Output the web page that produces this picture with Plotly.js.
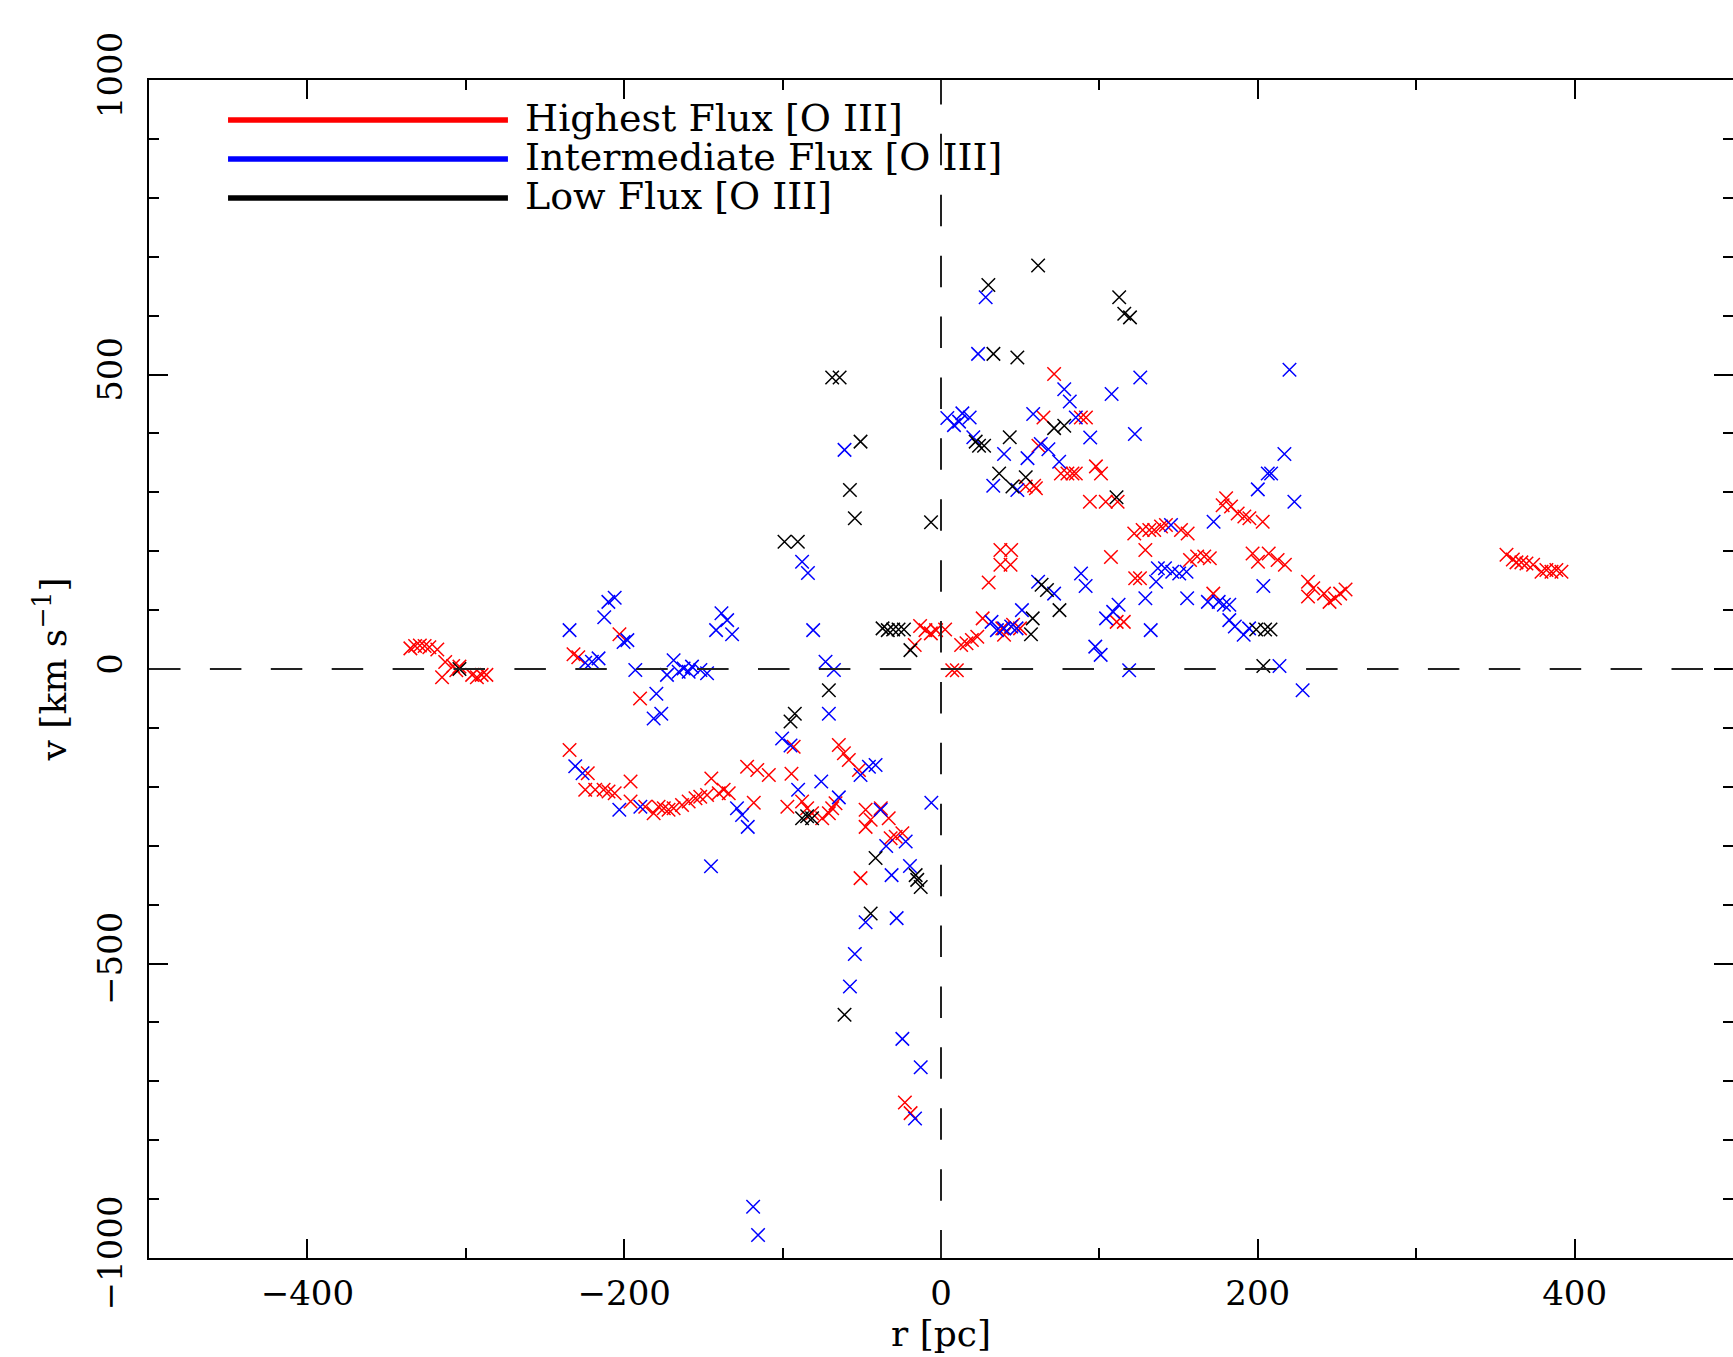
<!DOCTYPE html>
<html>
<head>
<meta charset="utf-8">
<script src="https://cdn.plot.ly/plotly-3.0.1.min.js"></script>
<style>html,body{margin:0;padding:0;background:#fff;}</style>
</head>
<body>
<div id="chart" style="width:1733px;height:1357px;"></div>
<script>
// ---- Highest Flux [O III] (red) ----
const rHigh = [
  -335,-332,-329,-326,-323,-318,-313,-315,-308,-304,-306,-296,-293,-290,-287,
  -232,-229,-203,-190,
  -234.5,-223,-224.6,-218.3,-213,-209.9,-206,-196,-196,-186.7,-181.4,-178.3,-175,-172,-168.8,-163.5,-159.3,-155,-152,-147.7,-145,-140.3,-137.2,-134,-122.4,-116,-108.7,-118.2,
  -97,-94.4,-93,-87.7,-84.5,-81.4,-75,-70.8,-68.7,-66.6,-64.5,-61.3,-58.2,-51.8,-47.6,-47.6,-44.4,-38,-33,-50.8,-31.8,-28.6,-24.4,-22.8,-19.2,
  -16.6,-13.2,-9.8,-6.4,-3.1,2.6,7.1,10,12.7,16.1,19.5,22.9,26.3,30.1,37.5,44.3,37.5,43.9,38.7,39.8,45.5,49.9,
  71.4,64.7,88.3,91.5,61.5,75.7,79.8,83,85.1,97.8,101,53.5,58.8,59.9,94,104,111.5,
  122,127.3,131.5,134.6,138.9,142,151.5,155.7,129,107.3,122.6,125.6,110.9,115.4,157.2,161.7,166.2,169.7,171.9,180,177.8,183.1,187.3,191.5,194.7,203.1,196.7,200.1,206.9,212.5,217.1,231.7,231.7,235,241.8,245.3,248.7,252,255.4,
  357,361,363.3,366.4,369.6,373.8,379.1,382.2,385.4,388.5,391.7
];
const vHigh = [
  35,39,40,39,37,33,12,-14,5,4,-2,-10,-14,-10,-10,
  25,20,59,-50,
  -137.5,-177,-205,-205,-205,-208,-211,-191,-225,-234,-245,-234,-236.5,-239,-236.5,-231,-225,-219.5,-217,-214,-186,-211,-205,-211,-166,-171.5,-180,-227,
  -234,-178,-132,-225,-236.5,-245,-253.5,-245,-236.5,-228,-129,-143,-154.5,-171.5,-239,-268,-256,-236.5,-253.5,-355,-287.5,-284.7,-279,-736,-754,
  40.7,73,66,60.5,66,67,-2,-2,40.7,43.6,49.2,54.8,86,147,202,202,177,177,69,58,75,69,
  501,427,427,427,379,332,332,332,332,344,332,310,311,307,284,284,284,
  230,236,236,236,242,244.5,236,230,202,190,154,154,80,80,185,191,191,188,128,290,278,276,264,259,256,250,196,182,196,185,177,148,123,137,128,114,120,128,135,
  194,186,181,181,179,177,165,168,165,168,165
];

// ---- Intermediate Flux [O III] (blue) ----
const rMid = [
  -234.5,-210,-206,-212.6,-200.4,-198,-224.6,-220.4,-216.2,-193,
  -179.7,-181.4,-176.6,-168.8,-173,-165.6,-162.5,-159.3,-157.2,-151.9,-147.7,
  -138.6,-135,-142,-131.9,-87.7,-84,-80.7,-72.9,-67.6,-70.8,
  -100.3,-95,-90.2,-75.6,-64.5,-50.8,-45.5,-41.3,-145.2,-230.9,
  -226.3,-203.1,-189.8,-128.8,-125.6,-122,-118.6,-115.5,-60.9,-24.4,
  -12.8,-16.4,-57.5,-54.4,-47.6,-28,-31.2,-19.6,-34.6,-22.3,-38.1,-6.1,
  28.2,23.4,77.8,81.3,107.7,125.8,220,4,8.2,13.5,18.1,11.4,
  58.2,85.1,20.4,39.8,54.6,63,67.8,74.6,94.2,122.4,33,48.2,
  216.8,206.3,208.4,200,223.1,172.1,145.2,203.5,136.9,141.4,146,150.4,155,
  135.8,129,155.4,168.5,175.3,178.6,182,182,185.5,191.1,194.5,213.7,228.3,118.8,
  88.4,91.3,112.1,104.2,108.7,132.4,97.4,100.8,61.3,71.4,51.1,31.9,35.3,39.8,44.3,47.7
];
const vMid = [
  66,114,121,88,46,49,10.7,12.4,18,-1.7,
  -42,-84,-76,15,-10,-4.6,1,-4.6,4,-1.7,-7.3,
  94.5,83,66,59,182,163,66,12.4,-1.7,-76,
  -118,-130,-205,-191,-218,-180,-166,-163,-335,-165,
  -177,-239,-234,-236.5,-248,-268,-913,-961,372,-628,
  -676,-763,-539,-484,-430,-423,-350,-334.5,-300.5,-293,-239,-227,
  631,535,475,454,467,495,508,426,414,434,427,420,
  433,427,393.5,365,358,382,373,352,393,399,311,304,
  365,332,332,305,284,250,244.5,141,171,171,165,162,165,
  148,120,120,114,114,109,109,83,72,58,69,5,-36,-2,
  162,141,109,86,97,66,38,24,148,128,100,80,66,69,72,69
];

// ---- Low Flux [O III] (black) ----
const rLow = [
  61.3,29.9,112.5,115.7,119.3,33.1,48.2,71.4,77.8,21.9,24,27.2,43.4,36.7,53.5,45.1,110.8,
  -6.3,-68.7,-64,-50.8,-57.5,-54.4,-98.8,-90.4,
  -36.9,-33.6,-30.2,-26.8,-23.4,-19.3,
  63.5,66.9,74.8,57.9,56.8,199,204.6,208,203.5,
  -70.8,-92.3,-95,-87.7,-84.5,-81.4,-41.3,-44.4,-60.9,-16,-15,-12.8,-304
];
const vLow = [
  685,652,631,603,597,535,529,409,413,386,379,379,393.5,332,325.5,310,291.5,
  249,495,495,386,304,256,216,216,
  69,66,67,67,67,32,
  143,134,100,86,59,67,67,67,5,
  -36,-76,-89,-253.5,-250,-253.5,-321,-415,-587,-350,-358,-370,0
];

const seriesNames = ['Highest Flux [O III]', 'Intermediate Flux [O III]', 'Low Flux [O III]'];
const seriesColors = ['rgb(255,0,0)', 'rgb(0,0,255)', 'rgb(0,0,0)'];
const xTitle = 'r [pc]';
const yTitle = 'v [km s<sup>−1</sup>]';

function mk(r, v, i) {
  return {
    type: 'scatter', mode: 'markers', x: r, y: v, name: seriesNames[i],
    marker: { symbol: 'x-thin', size: 13.5, color: seriesColors[i],
              line: { color: seriesColors[i], width: 1.5 } },
    showlegend: false, hoverinfo: 'x+y+name'
  };
}
const data = [mk(rHigh, vHigh, 0), mk(rMid, vMid, 1), mk(rLow, vLow, 2)];

const tickFont = { family: 'DejaVu Serif', size: 34, color: 'black' };
const legY = [0.966, 0.933, 0.8998];
const shapes = [
  { type: 'line', xref: 'x', yref: 'y', x0: -500, x1: 500, y0: 0, y1: 0,
    line: { color: '#222', width: 2, dash: '31.5px,29.4px' } },
  { type: 'line', xref: 'x', yref: 'y', x0: 0, x1: 0, y0: 1012, y1: -1000,
    line: { color: '#222', width: 2, dash: '31.5px,29.4px' } }
];
const annotations = [];
for (let i = 0; i < 3; i++) {
  shapes.push({ type: 'line', xref: 'paper', yref: 'paper', x0: 0.0499, x1: 0.2266,
    y0: legY[i], y1: legY[i], line: { color: seriesColors[i], width: 5.5 } });
  annotations.push({ xref: 'paper', yref: 'paper', x: 0.2361, y: legY[i] + 0.002,
    xanchor: 'left', yanchor: 'middle', showarrow: false, text: seriesNames[i],
    font: { family: 'DejaVu Serif', size: 38, color: 'black' } });
}

const layout = {
  width: 1733, height: 1357,
  margin: { l: 149, r: 0, t: 80, b: 99, pad: 0 },
  paper_bgcolor: 'white', plot_bgcolor: 'white',
  showlegend: false,
  font: { family: 'DejaVu Serif', color: 'black' },
  xaxis: {
    range: [-500, 500], tick0: 0, dtick: 200,
    ticks: 'inside', ticklen: 19, tickwidth: 2, tickcolor: 'black',
    minor: { dtick: 100, tick0: 0, ticks: 'inside', ticklen: 10, tickwidth: 2, tickcolor: 'black' },
    showline: true, linewidth: 2, linecolor: 'black', mirror: 'allticks',
    showgrid: false, zeroline: false, tickfont: tickFont, ticklabelstandoff: 4,
    title: { text: xTitle, font: { family: 'DejaVu Serif', size: 36, color: 'black' }, standoff: 2 }
  },
  yaxis: {
    range: [-1000, 1000], tick0: 0, dtick: 500,
    ticks: 'inside', ticklen: 19, tickwidth: 2, tickcolor: 'black',
    minor: { dtick: 100, tick0: 0, ticks: 'inside', ticklen: 10, tickwidth: 2, tickcolor: 'black' },
    showline: true, linewidth: 2, linecolor: 'black', mirror: 'allticks',
    showgrid: false, zeroline: false, tickfont: tickFont, tickangle: -90, ticklabelstandoff: 11,
    title: { text: yTitle, font: { family: 'DejaVu Serif', size: 36, color: 'black' }, standoff: 13 }
  },
  shapes: shapes,
  annotations: annotations
};

Plotly.newPlot('chart', data, layout, { displayModeBar: false, staticPlot: true });
</script>
</body>
</html>
